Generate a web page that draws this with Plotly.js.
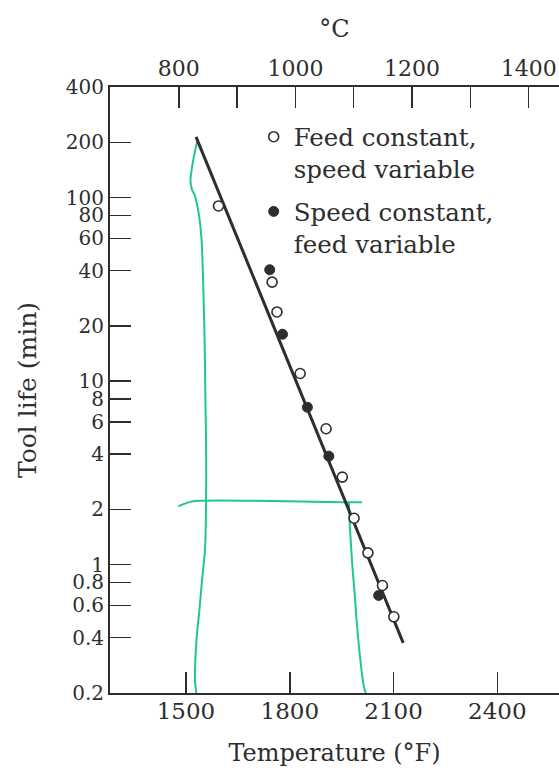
<!DOCTYPE html>
<html>
<head>
<meta charset="utf-8">
<script src="https://cdn.plot.ly/plotly-3.0.1.min.js"></script>
<style>
html, body { margin: 0; padding: 0; background: #fff; overflow: hidden; }
#chart { width: 559px; height: 772px; }
</style>
</head>
<body>
<div id="chart"></div>
<script>
// ---- data ----
const tempOpenF = [1594, 1749, 1763, 1830, 1905, 1952, 1986, 2026, 2068, 2101];
const lifeOpen = [90, 34.6, 23.8, 11, 5.5, 3.0, 1.79, 1.16, 0.77, 0.52];
const tempFilledF = [1742, 1779, 1851, 1913, 2057];
const lifeFilled = [40.4, 18, 7.2, 3.9, 0.68];
const fitTempF = [1529, 2128];
const fitLife = [214, 0.375];

// hand-drawn green marks on the figure
const greenLeftF = [1533, 1520, 1513, 1517, 1526, 1538, 1545, 1551, 1554, 1556, 1558, 1558, 1555, 1546, 1539, 1530, 1526, 1530];
const greenLeftLife = [206, 156, 123, 111, 102, 79, 59, 27.4, 16, 8.3, 4.8, 2.2, 1.22, 0.81, 0.57, 0.38, 0.234, 0.2];
const greenHorizF = [1478, 1497, 1517, 1549, 1685, 1830, 1954, 2009];
const greenHorizLife = [2.08, 2.15, 2.21, 2.23, 2.23, 2.21, 2.19, 2.19];
const greenRightF = [1971, 1973, 1977, 1981, 1987, 1993, 2002, 2010, 2016, 2020];
const greenRightLife = [2.19, 1.71, 1.29, 0.983, 0.722, 0.503, 0.33, 0.244, 0.21, 0.2];

const yTickVals = [0.2, 0.4, 0.6, 0.8, 1, 2, 4, 6, 8, 10, 20, 40, 60, 80, 100, 200, 400];
const yTickText = ['0.2', '0.4', '0.6', '0.8', '1', '2', '4', '6', '8', '10', '20', '40', '60', '80', '100', '200', '400'];
const xTickValsF = [1500, 1800, 2100, 2400];
const xTickValsC = [800, 900, 1000, 1100, 1200, 1300, 1400];
const xTickTextC = ['800', '', '1000', '', '1200', '', '1400'];

const seriesNames = ['Feed constant,<br>speed variable', 'Speed constant,<br>feed variable'];

const ink = '#2e2e2e';
const green = '#1fc796';
const font = 'DejaVu Serif, serif';
const toC = f => (f - 32) * 5 / 9;

const traces = [
  {x: greenLeftF, y: greenLeftLife, mode: 'lines', line: {color: green, width: 2, shape: 'spline'}, showlegend: false, hoverinfo: 'skip'},
  {x: greenHorizF, y: greenHorizLife, mode: 'lines', line: {color: green, width: 2, shape: 'spline'}, showlegend: false, hoverinfo: 'skip'},
  {x: greenRightF, y: greenRightLife, mode: 'lines', line: {color: green, width: 2, shape: 'spline'}, showlegend: false, hoverinfo: 'skip'},
  {x: fitTempF, y: fitLife, mode: 'lines', line: {color: ink, width: 3}, showlegend: false},
  {x: tempOpenF, y: lifeOpen, mode: 'markers', name: seriesNames[0], legendrank: 1, legendgroup: 'a',
   marker: {symbol: 'circle', size: 10, color: '#ffffff', line: {color: ink, width: 1.6}}},
  {x: tempFilledF, y: lifeFilled, mode: 'markers', name: seriesNames[1], legendrank: 2, legendgroup: 'b',
   marker: {symbol: 'circle', size: 10, color: ink, line: {color: ink, width: 1}}},
  // the same open-circle data in °C (invisible) so that the top °C axis gets drawn
  {x: tempOpenF.map(toC), y: lifeOpen, xaxis: 'x2', yaxis: 'y', mode: 'markers', marker: {opacity: 0},
   showlegend: false, hoverinfo: 'skip'}
];

const layout = {
  width: 559, height: 772,
  margin: {l: 110, r: 0, t: 87, b: 79},
  paper_bgcolor: '#fff', plot_bgcolor: 'rgba(0,0,0,0)',
  font: {family: font, color: ink, size: 23},
  showlegend: true,
  legend: {x: 0.32, y: 0.955, xanchor: 'left', yanchor: 'top', valign: 'top',
           bgcolor: 'rgba(0,0,0,0)', font: {family: font, size: 24.5, color: ink},
           tracegroupgap: 8, itemclick: false},
  xaxis: {
    range: [1280.3, 2578.4], tickvals: xTickValsF, ticks: 'inside', ticklen: 21, tickwidth: 1.5, tickcolor: ink,
    showline: true, linewidth: 2, linecolor: ink, showgrid: false, zeroline: false,
    tickfont: {size: 23}, ticklabelstandoff: -4,
    title: {text: 'Temperature (°F)', font: {size: 24}, standoff: 22}
  },
  xaxis2: {
    side: 'top', anchor: 'y', domain: [0, 1], range: [682, 1452], tickvals: xTickValsC, ticktext: xTickTextC,
    ticks: 'inside', ticklen: 21, tickwidth: 1.5, tickcolor: ink,
    showline: true, linewidth: 2, linecolor: ink, showgrid: false,
    tickfont: {size: 22},
    title: {text: '°C', font: {size: 24}, standoff: 12}
  },
  yaxis: {
    type: 'log', range: [Math.log10(0.2), Math.log10(400)], tickvals: yTickVals, ticktext: yTickText,
    ticks: 'inside', ticklen: 21, tickwidth: 1.5, tickcolor: ink,
    showline: true, linewidth: 2, linecolor: ink, showgrid: false, zeroline: false,
    tickfont: {size: 20}, ticklabelstandoff: 0,
    title: {text: 'Tool life (min)', font: {size: 25}, standoff: 22}
  }
};

Plotly.newPlot('chart', traces, layout, {displayModeBar: false, staticPlot: true});
</script>
</body>
</html>
